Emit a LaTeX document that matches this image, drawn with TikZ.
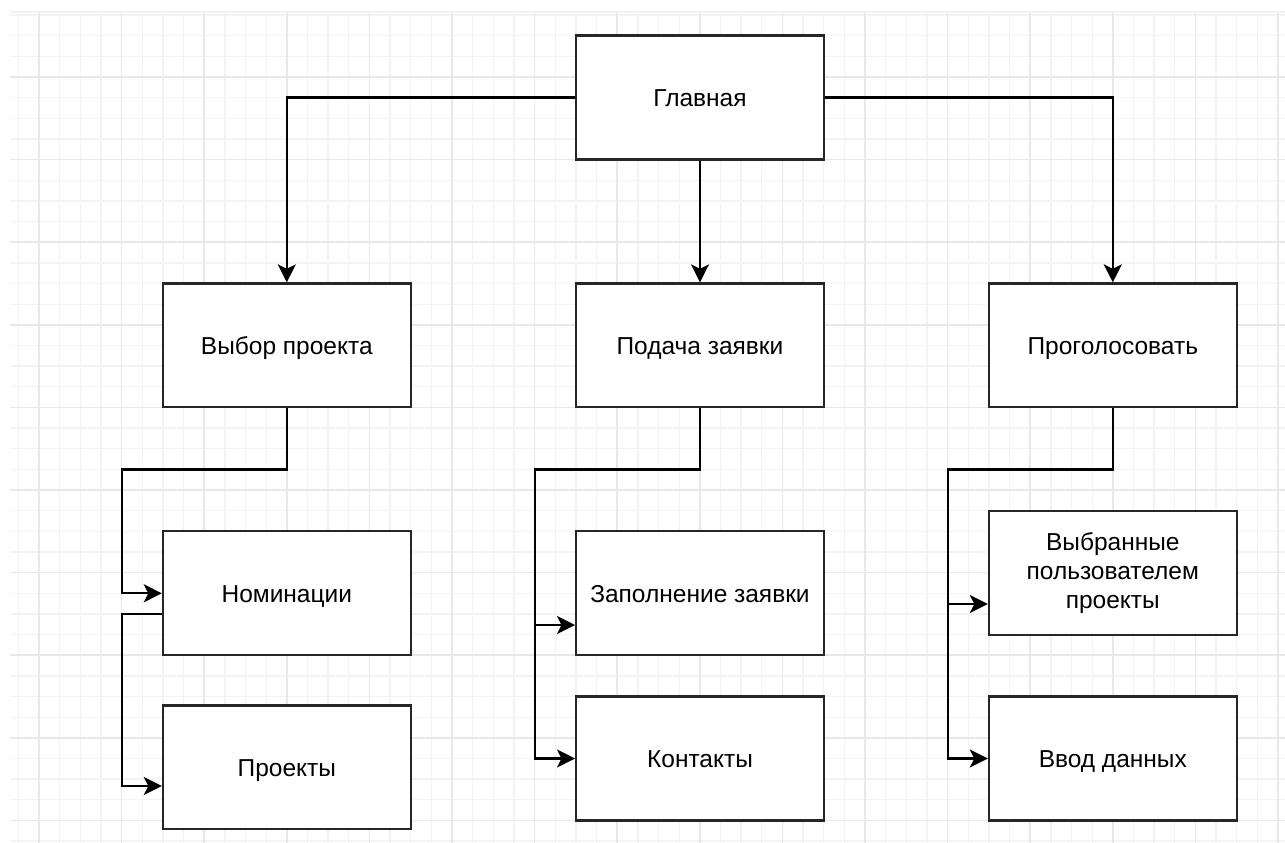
\documentclass[tikz,border=0pt]{standalone}
\usepackage{fontspec}
\setmainfont{Liberation Sans}
\usetikzlibrary{arrows.meta}
\definecolor{minorgrid}{HTML}{F3F3F3}
\definecolor{majorgrid}{HTML}{E8E8E8}
\begin{document}
\begin{tikzpicture}[x=1pt,y=-1pt,
  box/.style={draw=black!85, line width=2.2pt, fill=white, minimum width=247.8pt,
    minimum height=123.9pt, align=center, inner sep=0pt,
    font=\fontsize{24.5}{29}\selectfont},
  onebox/.style={box, text height=17.6pt, text depth=0pt},
  conn/.style={line width=2.2pt, draw=black,
    -{Stealth[length=18pt,width=18pt,inset=4.5pt]}},
  minorline/.style={draw=minorgrid, line width=1.3pt},
  majorline/.style={draw=majorgrid, line width=1.5pt}]
\useasboundingbox (0,0) rectangle (1285,843);
\fill[white] (0,0) rectangle (1285,843);
% grid
\begin{scope}
\clip (10,12) rectangle (1285,843);
\foreach \k in {0,...,61} {
  \pgfmathsetmacro{\xx}{18.35+20.65*\k}
  \draw[minorline] (\xx,12) -- (\xx,843);
}
\foreach \k in {0,...,40} {
  \pgfmathsetmacro{\yy}{15.05+20.65*\k}
  \draw[minorline] (10,\yy) -- (1285,\yy);
}
\foreach \k in {0,...,15} {
  \pgfmathsetmacro{\xx}{39+82.6*\k}
  \draw[majorline] (\xx,12) -- (\xx,843);
}
\foreach \k in {0,...,10} {
  \pgfmathsetmacro{\yy}{77+82.6*\k}
  \draw[majorline] (10,\yy) -- (1285,\yy);
}
\draw[minorline] (10,12) -- (1285,12);
\end{scope}
% boxes
\node[onebox] (main) at (700,97.5) {Главная};
\node[onebox] (vybor) at (286.8,345.4) {Выбор проекта};
\node[onebox] (podacha) at (700,345.4) {Подача заявки};
\node[onebox] (prog) at (1112.8,345.4) {Проголосовать};
\node[onebox] (nom) at (286.8,593.3) {Номинации};
\node[onebox] (proj) at (286.8,767.4) {Проекты};
\node[onebox] (zap) at (700,593.3) {Заполнение заявки};
\node[onebox] (kont) at (700,758.5) {Контакты};
\node[box] (vybr) at (1112.8,572.7) {Выбранные\\пользователем\\проекты};
\node[onebox] (vvod) at (1112.8,758.5) {Ввод данных};
% helper coordinates
\coordinate (c1) at (121.6,469.4);
\coordinate (c2) at (534.6,469.4);
\coordinate (c3) at (947.6,469.4);
\coordinate (n2) at ([yshift=-20.7pt]nom.west);
\coordinate (p2) at ([yshift=-18.6pt]proj.west);
\coordinate (z2) at ([yshift=-31.7pt]zap.west);
\coordinate (v2) at ([yshift=-31.3pt]vybr.west);
% connectors
\draw[conn] (main.west) -| (vybor.north);
\draw[conn] (main.east) -| (prog.north);
\draw[conn] (main.south) -- (podacha.north);
\draw[conn] (vybor.south) |- (c1) |- (nom.west);
\draw[conn] (n2) -- (n2 -| c1) |- (p2);
\draw[conn] (podacha.south) |- (c2) |- (z2);
\draw[conn] (podacha.south) |- (c2) |- (kont.west);
\draw[conn] (prog.south) |- (c3) |- (v2);
\draw[conn] (prog.south) |- (c3) |- (vvod.west);
\end{tikzpicture}
\end{document}
